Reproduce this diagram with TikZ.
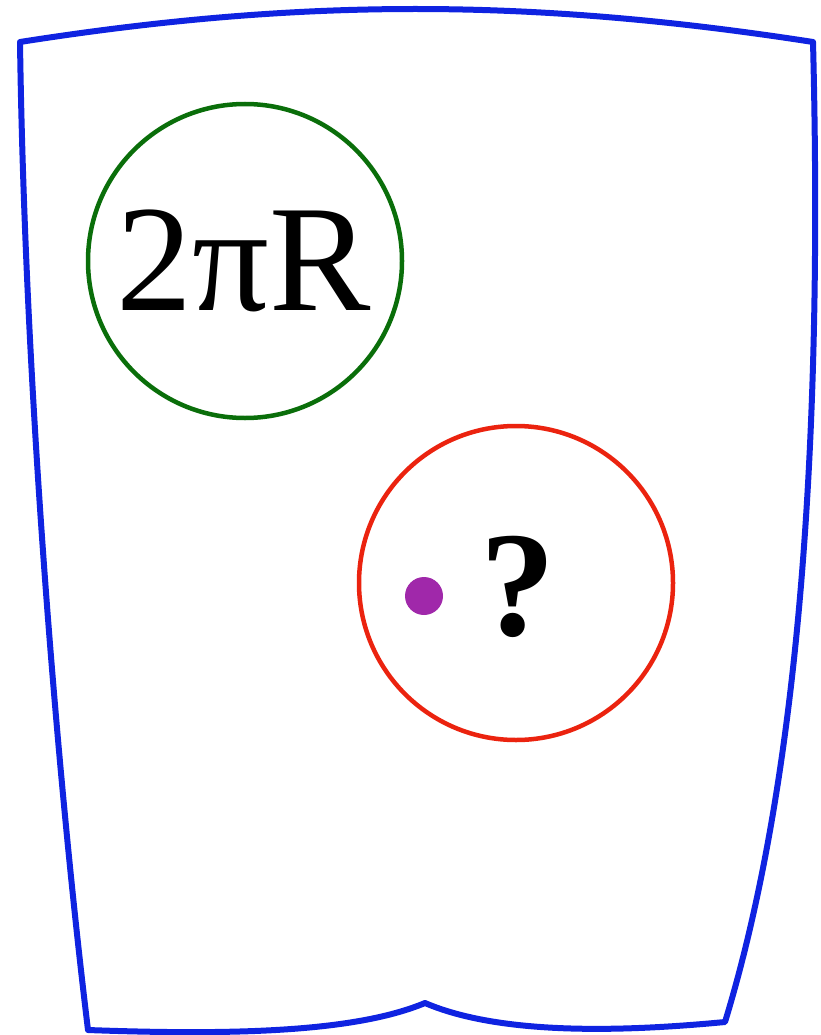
\documentclass[tikz,border=0pt]{standalone}
\usepackage{fontspec}
\setmainfont{Liberation Serif}
\definecolor{outlineblue}{RGB}{15,35,225}
\definecolor{circgreen}{RGB}{10,110,10}
\definecolor{circred}{RGB}{235,35,15}
\definecolor{dotpurple}{RGB}{160,40,170}
\begin{document}
\begin{tikzpicture}[x=1pt,y=-1pt,
  outline/.style={draw=outlineblue,line width=6pt,line join=round},
  ring/.style={circle,line width=4.5pt,minimum size=314pt,inner sep=0pt},
]
\useasboundingbox (0,0) rectangle (821,1035);
\coordinate (tl) at (20,42);
\coordinate (tr) at (813,42);
\coordinate (br) at (725,1022);
\coordinate (bm) at (425,1003);
\coordinate (bl) at (88,1030);
\draw[outline] (tl) .. controls (300,-2) and (530,-2) .. (tr)
  .. controls (822,400) and (805,760) .. (br)
  .. controls (620,1032) and (500,1035) .. (bm)
  .. controls (360,1030) and (250,1036) .. (bl)
  .. controls (60,800) and (25,400) .. (tl) -- cycle;
\node[ring,draw=circgreen] (green) at (245,261) {};
\node[ring,draw=circred] (red) at (516,583) {};
\node[circle,fill=dotpurple,minimum size=38pt,inner sep=0pt] (dot) at (424,596) {};
\node[anchor=base,inner sep=0pt,font=\fontsize{152}{152}\selectfont] (lbl) at (244,310) {2πR};
\node[anchor=base,inner sep=0pt,font=\fontsize{150}{150}\selectfont\bfseries] (q) at (518,635) {?};
\end{tikzpicture}
\end{document}
